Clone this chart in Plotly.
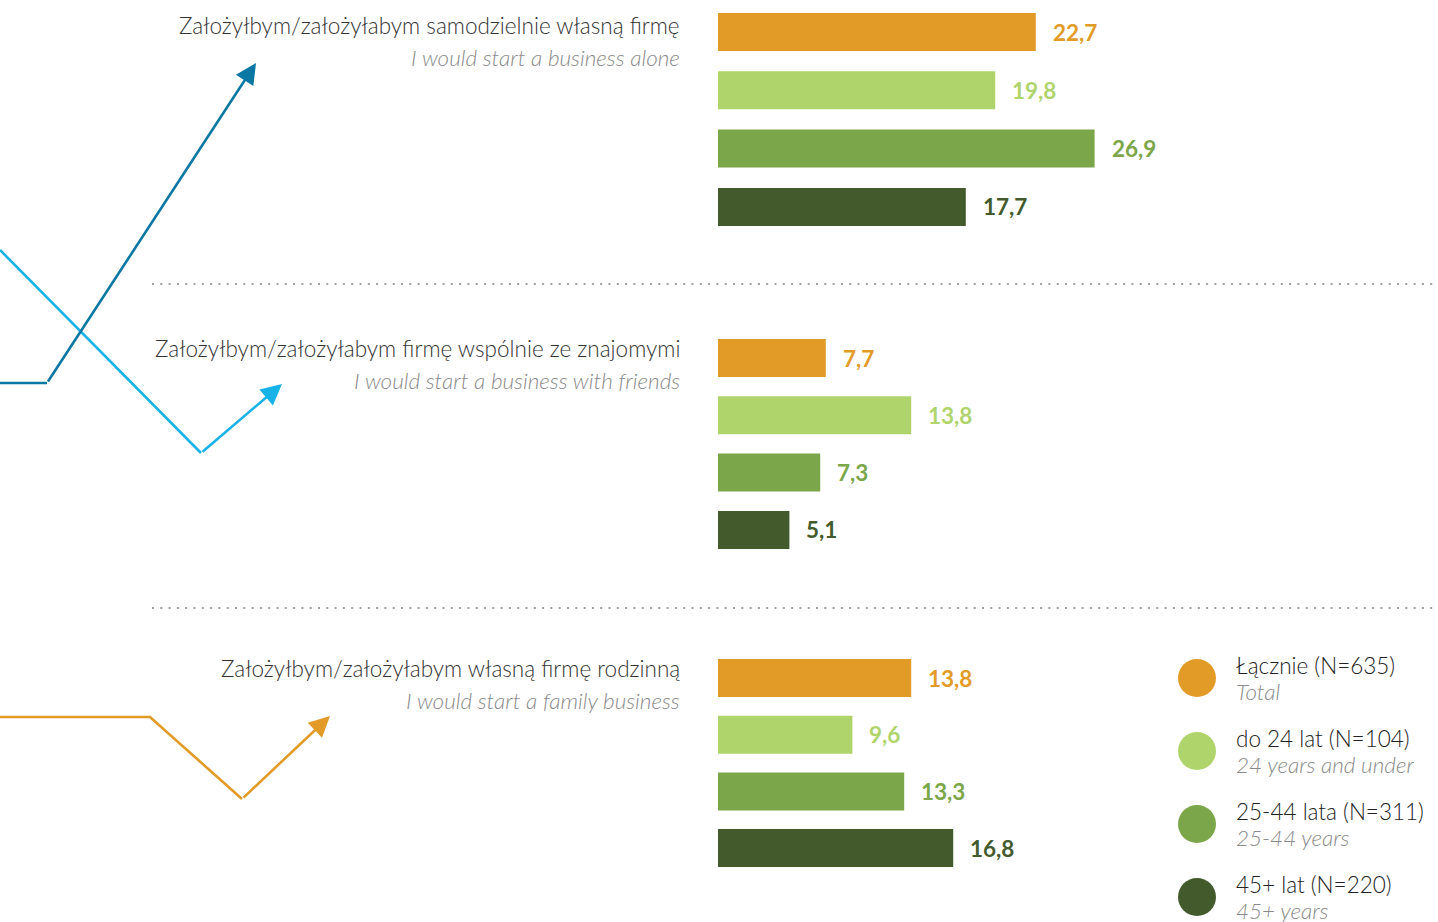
import plotly.graph_objects as go

# --- data -------------------------------------------------------------
categories_pl = [
    "Założyłbym/założyłabym samodzielnie własną firmę",
    "Założyłbym/założyłabym firmę wspólnie ze znajomymi",
    "Założyłbym/założyłabym własną firmę rodzinną",
]
categories_en = [
    "I would start a business alone",
    "I would start a business with friends",
    "I would start a family business",
]
series_pl = ["Łącznie (N=635)", "do 24 lat (N=104)", "25-44 lata (N=311)", "45+ lat (N=220)"]
series_en = ["Total", "24 years and under", "25-44 years", "45+ years"]

total = [22.7, 7.7, 13.8]
age_to_24 = [19.8, 13.8, 9.6]
age_25_44 = [26.9, 7.3, 13.3]
age_45_plus = [17.7, 5.1, 16.8]
series_values = [total, age_to_24, age_25_44, age_45_plus]

# --- styling ------------------------------------------------------------
W, H = 1438, 922
colors = ["#E39B27", "#AFD46B", "#7BA649", "#435A2C"]
FONT = "Lato"
FS = 22.5
BAR_LEFT = 718          # pixel where value 0 sits
PX_PER_UNIT = 14.0
GROUP_TOP = [32, 358, 678]      # centre of the first bar in each group (px)
BAR_STEP = [58.3, 57.3, 56.7]   # distance between bar centres in each group
BAR_H = 38
LABEL_RIGHT = 682


def fmt(v):
    return f"{v:.1f}".replace(".", ",")


fig = go.Figure()

# bars: one trace per age series, y positions in pixel units
for s, (name, vals, col) in enumerate(zip(series_pl, series_values, colors)):
    ys = [GROUP_TOP[g] + s * BAR_STEP[g] for g in range(len(vals))]
    fig.add_trace(go.Bar(
        x=vals, y=ys, orientation="h", width=BAR_H,
        marker=dict(color=col, line=dict(width=0)),
        name=name, showlegend=False, hoverinfo="x",
        xaxis="x", yaxis="y",
    ))
    for v, y in zip(vals, ys):
        fig.add_annotation(
            x=v, y=y, xref="x", yref="y", text=fmt(v), showarrow=False,
            xanchor="left", yanchor="middle", xshift=15,
            font=dict(family=FONT, size=FS, color=col, weight="bold"),
        )

# category labels (Polish + English translation)
for g, (pl, en) in enumerate(zip(categories_pl, categories_en)):
    ty = GROUP_TOP[g] - (6 if g == 0 else 9)
    fig.add_annotation(
        x=LABEL_RIGHT, y=ty - 1, xref="x2", yref="y", text=pl, showarrow=False,
        xanchor="right", yanchor="middle",
        font=dict(family=FONT, size=FS, color="#333333", weight=300),
    )
    fig.add_annotation(
        x=LABEL_RIGHT, y=ty + 31, xref="x2", yref="y", text=f"<i>{en}</i>",
        showarrow=False, xanchor="right", yanchor="middle",
        font=dict(family=FONT, size=FS, color="#8a8a8a", weight=300),
    )

# dotted separators between groups
for sy in [284, 608]:
    fig.add_shape(type="line", x0=152, x1=W, y0=sy, y1=sy, xref="x2", yref="y",
                  line=dict(color="#a0a0a0", width=2.2, dash="2px,6.3px"))

# decorative trend arrows on the left
arrows = [
    ("#0B78A3", [0, 47, 256], [383, 383, 63]),
    ("#17B2E8", [0, 201, 282], [250, 453, 384]),
    ("#E39B27", [0, 150, 242, 330], [717, 717, 799, 716]),
]
for col, xs, ys in arrows:
    fig.add_trace(go.Scatter(
        x=xs[:-1], y=ys[:-1], mode="lines", line=dict(color=col, width=2.6),
        xaxis="x2", yaxis="y", hoverinfo="skip", showlegend=False,
    ))
    fig.add_annotation(
        x=xs[-1], y=ys[-1], ax=xs[-2], ay=ys[-2],
        xref="x2", yref="y", axref="x2", ayref="y",
        showarrow=True, arrowhead=2, arrowsize=1.6, arrowwidth=2.6,
        arrowcolor=col, text="", standoff=0,
    )

# legend: coloured dots with bilingual labels
leg_y = [678, 751, 824, 897]
fig.add_trace(go.Scatter(
    x=[1197] * 4, y=leg_y, mode="markers",
    marker=dict(size=38, color=colors, line=dict(width=0)),
    xaxis="x2", yaxis="y", hoverinfo="skip", showlegend=False,
))
for name, en, ly in zip(series_pl, series_en, leg_y):
    fig.add_annotation(
        x=1234, y=ly - 13, xref="x2", yref="y", text=name, showarrow=False,
        xanchor="left", yanchor="middle",
        font=dict(family=FONT, size=FS, color="#222222", weight=300),
    )
    fig.add_annotation(
        x=1234, y=ly + 13, xref="x2", yref="y", text=f"<i>{en}</i>", showarrow=False,
        xanchor="left", yanchor="middle",
        font=dict(family=FONT, size=FS, color="#8a8a8a", weight=300),
    )

fig.update_layout(
    width=W, height=H, autosize=False,
    margin=dict(l=0, r=0, t=0, b=0),
    paper_bgcolor="white", plot_bgcolor="rgba(0,0,0,0)",
    barmode="overlay", showlegend=False,
    # value axis for the bars, starting at the bars' left edge
    xaxis=dict(domain=[BAR_LEFT / W, 1], range=[0, (W - BAR_LEFT) / PX_PER_UNIT],
               anchor="y", visible=False, fixedrange=True),
    # full-width pixel axis for labels, arrows and legend
    xaxis2=dict(domain=[0, 1], range=[0, W], anchor="y", visible=False,
                fixedrange=True),
    yaxis=dict(domain=[0, 1], range=[H, 0], visible=False, fixedrange=True),
)

fig.write_html("out.html", config={"displayModeBar": False})
